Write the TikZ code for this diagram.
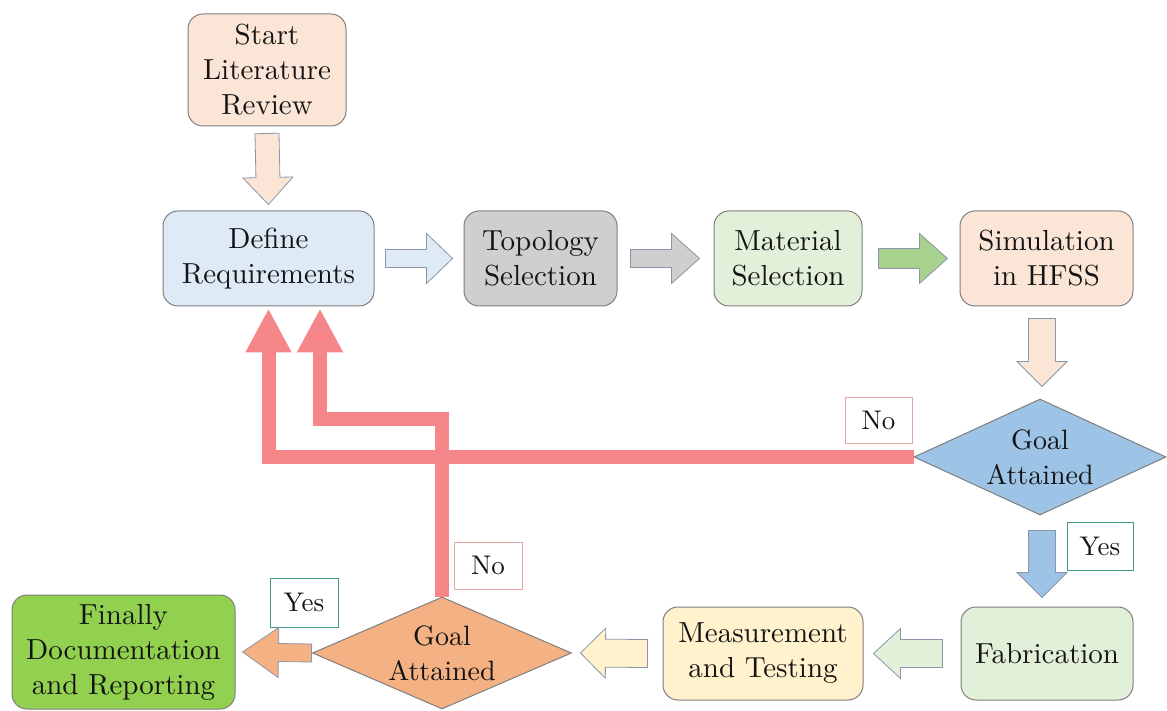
\documentclass[tikz,border=0pt]{standalone}
\usepackage{fontspec}
\setmainfont{lmroman10-regular}[Extension=.otf]
\usetikzlibrary{arrows.meta,calc,shapes.geometric}
\definecolor{peach}{HTML}{FBE5D6}
\definecolor{lblue}{HTML}{DEEBF7}
\definecolor{lgray}{HTML}{D0CECE}
\definecolor{lgreen}{HTML}{E2F0D9}
\definecolor{mgreen}{HTML}{A9D18E}
\definecolor{dblue}{HTML}{9DC3E6}
\definecolor{lyellow}{HTML}{FFF2CC}
\definecolor{orng}{HTML}{F4B183}
\definecolor{fgreen}{HTML}{92D050}
\definecolor{fbred}{HTML}{F7868A}
\definecolor{boxline}{HTML}{7F7F7F}
\definecolor{arrline}{HTML}{8C96A8}
\definecolor{txt}{HTML}{141414}
\definecolor{nobord}{HTML}{E6A5A5}
\definecolor{yesbord}{HTML}{3F9B83}
\newcommand\blockarr[6]{%
  \draw[#1] let \p1=#2, \p2=#3,
    \n1={veclen(\x2-\x1,\y2-\y1)}, \n2={(\x2-\x1)/\n1}, \n3={(\y2-\y1)/\n1} in
    ({\x1-(\n3)*#4},{\y1+(\n2)*#4})
    -- ({\x2-(\n2)*#6-(\n3)*#4},{\y2-(\n3)*#6+(\n2)*#4})
    -- ({\x2-(\n2)*#6-(\n3)*#5},{\y2-(\n3)*#6+(\n2)*#5})
    -- (\p2)
    -- ({\x2-(\n2)*#6+(\n3)*#5},{\y2-(\n3)*#6-(\n2)*#5})
    -- ({\x2-(\n2)*#6+(\n3)*#4},{\y2-(\n3)*#6-(\n2)*#4})
    -- ({\x1+(\n3)*#4},{\y1-(\n2)*#4}) -- cycle;}
\tikzset{
  box/.style={draw=boxline, line width=1pt, rounded corners=15pt, align=center,
    text=txt, font=\fontsize{29}{35}\selectfont, inner sep=0pt},
  dia/.style={diamond, draw=boxline, line width=1pt, inner sep=0pt},
  diatext/.style={align=center, text=txt, font=\fontsize{28}{35}\selectfont, inner sep=0pt},
  lbl/.style={draw, line width=0.9pt, fill=white, text=txt,
    font=\fontsize{27}{32}\selectfont, inner sep=0pt},
  barr/.style={draw=arrline, line width=0.8pt, line join=miter},
  fb/.style={draw=fbred, line width=14pt, line join=miter,
    -{Triangle[length=44pt,width=43pt]}},
}
\begin{document}
\begin{tikzpicture}[x=1pt,y=1pt]
\useasboundingbox (0,0) rectangle (1167,710);
\fill[white] (0,0) rectangle (1167,710);
% boxes
\node[box, fill=peach, minimum width=158pt, minimum height=112pt] (start) at (267,640) {Start\\Literature\\Review};
\node[box, fill=lblue, minimum width=211pt, minimum height=95pt] (define) at (268.5,451.5) {Define\\Requirements};
\node[box, fill=lgray, minimum width=153pt, minimum height=95pt] (topo) at (540.5,451.5) {Topology\\Selection};
\node[box, fill=lgreen, minimum width=148pt, minimum height=95pt] (mat) at (788,451.5) {Material\\Selection};
\node[box, fill=peach, minimum width=173pt, minimum height=95pt] (sim) at (1046.5,451.5) {Simulation\\in HFSS};
\node[dia, fill=dblue, minimum width=252pt, minimum height=116pt] (g1) at (1040,253) {};
\node[diatext] (g1t) at (g1) {Goal\\Attained};
\node[box, fill=lgreen, minimum width=172pt, minimum height=93pt] (fab) at (1047,56.5) {Fabrication};
\node[box, fill=lyellow, minimum width=200pt, minimum height=93pt] (meas) at (763,56.5) {Measurement\\and Testing};
\node[dia, fill=orng, minimum width=259pt, minimum height=112pt] (g2) at (442,57) {};
\node[diatext] (g2t) at (g2) {Goal\\Attained};
\node[box, fill=fgreen, minimum width=223pt, minimum height=114pt] (final) at (123.5,58) {Finally\\Documentation\\and Reporting};
% labels
\node[lbl, draw=nobord, minimum width=67pt, minimum height=46pt] (no1) at (878.5,290) {No};
\node[lbl, draw=nobord, minimum width=68pt, minimum height=47pt] (no2) at (488,144.5) {No};
\node[lbl, draw=yesbord, minimum width=66pt, minimum height=48pt] (yes1) at (1100,164) {Yes};
\node[lbl, draw=yesbord, minimum width=68pt, minimum height=49pt] (yes2) at (304,107.5) {Yes};
% block arrows
\blockarr{barr, fill=peach}{($(start.south)+(0,-7)$)}{($(define.north)+(0,6)$)}{12}{25}{27}
\blockarr{barr, fill=lblue}{($(define.east)+(11,0)$)}{($(topo.west)+(-11,0)$)}{9}{25}{26}
\blockarr{barr, fill=lgray}{($(topo.east)+(13,0)$)}{($(mat.west)+(-14,0)$)}{9}{25}{28}
\blockarr{barr, fill=mgreen}{($(mat.east)+(16,0)$)}{($(sim.west)+(-12,0)$)}{10}{25}{28}
\blockarr{barr, fill=peach}{($(sim.south -| g1.north)+(2,-12)$)}{($(g1.north)+(2,12)$)}{13.5}{25}{25}
\blockarr{barr, fill=dblue}{($(g1.south)+(2,-15)$)}{($(fab.north -| g1.south)+(2,9)$)}{13.5}{25}{25}
\blockarr{barr, fill=lgreen}{($(fab.west)+(-18,0)$)}{($(meas.east)+(10,0)$)}{14}{25}{27}
\blockarr{barr, fill=lyellow}{($(meas.west)+(-15,0)$)}{($(g2.east)+(8.5,0)$)}{14}{25}{25}
\blockarr{barr, fill=orng}{($(g2.west)+(-0.5,0)$)}{($(final.east)+(7,0)$)}{9}{25}{36}
% feedback arrows
\coordinate (bend) at (320,291);
\draw[fb] (g1.west) -| ($(define.south)+(0,-2)$);
\draw[fb] (g2.north) |- (bend) -- ($(bend |- define.south)+(0,-2)$);
\end{tikzpicture}
\end{document}
